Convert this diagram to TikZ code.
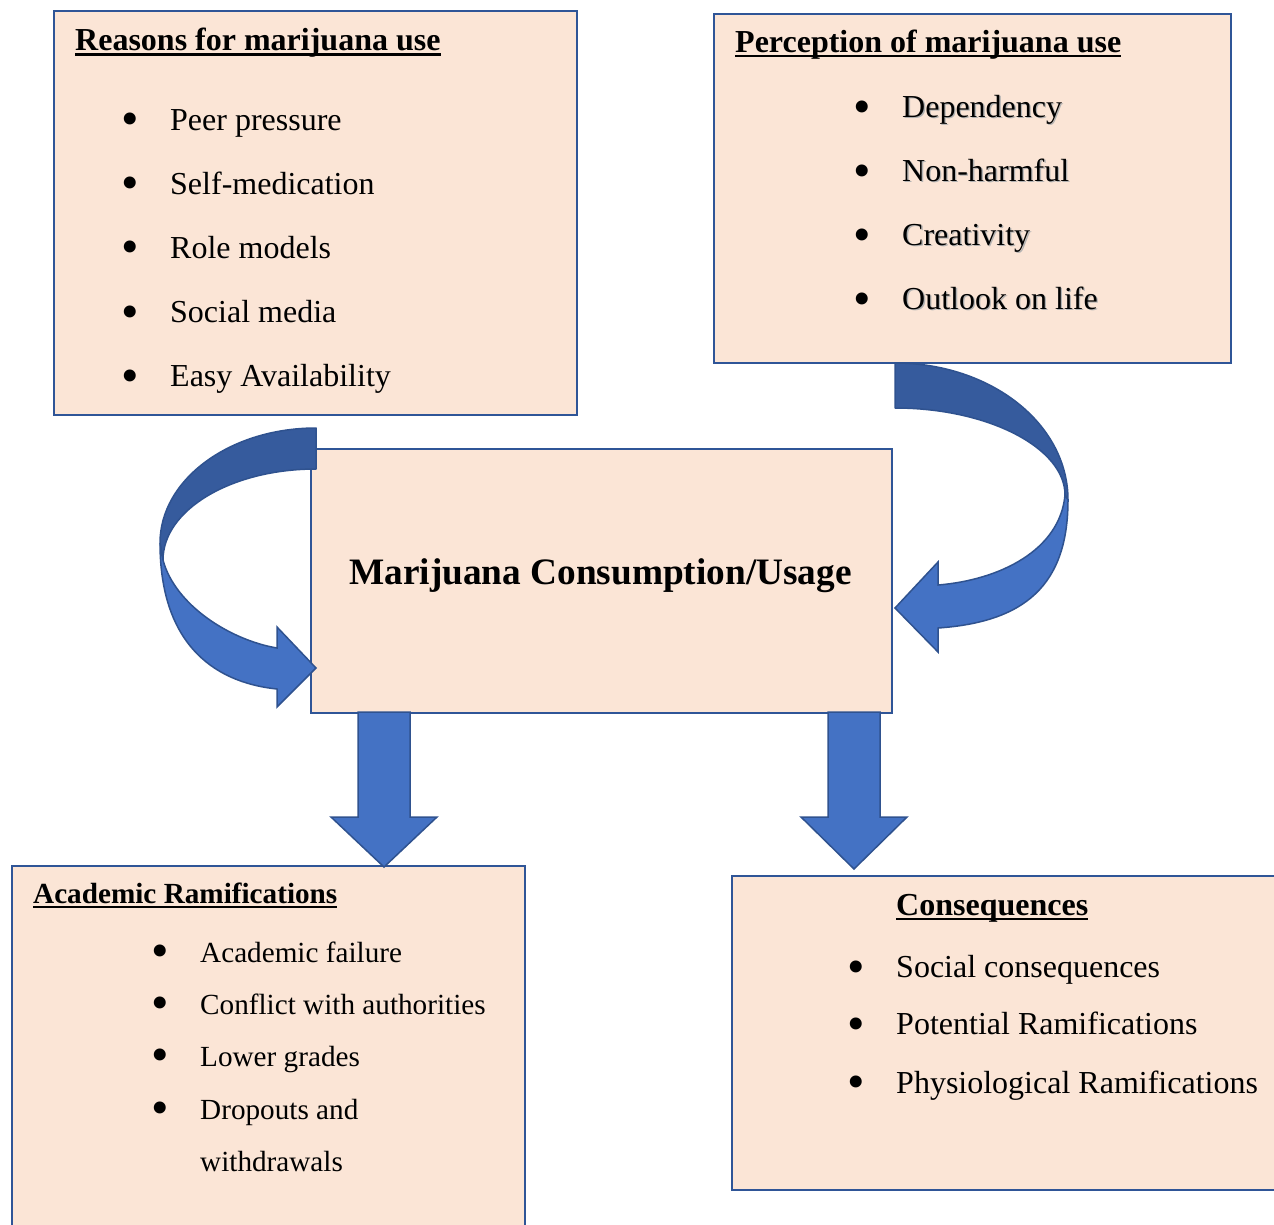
\documentclass[tikz,border=0pt]{standalone}
\usepackage{fontspec}
\setmainfont{Liberation Serif}
\usetikzlibrary{positioning}

\definecolor{peach}{HTML}{FBE5D6}
\definecolor{boxline}{HTML}{2F5597}
\definecolor{arrowblue}{HTML}{4472C4}
\definecolor{arrowdark}{HTML}{365B9D}
\definecolor{arrowline}{HTML}{2F528F}

% underlined heading, rule at a fixed depth
\newcommand{\ulhead}[1]{\setbox0\hbox{#1}\rlap{\rule[-0.17em]{\wd0}{0.08em}}\box0}
% bullet hung to the left of an item
\newcommand{\bul}{\llap{\raisebox{-0.18em}{\fontsize{50}{50}\selectfont •}\hspace{31.5pt}}}
% soft text shadow
\newcommand{\shd}[1]{\rlap{\hspace{1.3pt}\raisebox{-1.3pt}{\color{black!30}#1}}#1}

\tikzset{
    panel/.style={
        draw=boxline,
        line width=2pt,
        fill=peach,
        inner sep=0pt,
        anchor=north west},
    headtxt/.style={
        font=\fontsize{32}{38}\selectfont\bfseries,
        anchor=base west,
        inner sep=0pt},
    itemtxt/.style={
        font=\fontsize{32}{38}\selectfont,
        anchor=base west,
        inner sep=0pt},
    acadhead/.style={headtxt, font=\fontsize{29.2}{35}\selectfont\bfseries},
    acaditem/.style={itemtxt, font=\fontsize{29.2}{35}\selectfont},
    backband/.style={
        fill=arrowdark,
        draw=arrowline,
        line width=1.5pt,
        line join=round},
    frontband/.style={
        fill=arrowblue,
        draw=arrowline,
        line width=1.5pt,
        line join=miter}
}

\begin{document}
\begin{tikzpicture}[x=1pt, y=-1pt]
    \useasboundingbox (0,0) rectangle (1274,1224);

    % boxes
    \node[panel, minimum width=523, minimum height=404] (reasons) at (53,10) {};
    \node[panel, minimum width=517, minimum height=349] (perception) at (713,13) {};
    \node[panel, minimum width=581, minimum height=264] (usage) at (310,448) {};
    \node[panel, minimum width=513, minimum height=380] (academic) at (11,865) {};
    \node[panel, minimum width=560, minimum height=314] (conseq) at (731,875) {};

    % curved arrow, left
    \draw[backband] (316,428) .. controls (229.8,428) and (160,479.5) .. (160,543)
        -- (163,560) .. controls (163,509.7) and (231.5,469) .. (316,469) -- cycle;
    \draw[frontband] (160,543) .. controls (160,640) and (210,682) .. (277,689)
        -- (277,707) -- (316,668) -- (277,627) -- (277,648)
        .. controls (230,640) and (175,605) .. (163,560) -- cycle;

    % curved arrow, right
    \draw[backband] (895,363) .. controls (990.5,363) and (1068,423.4) .. (1068,500)
        -- (1065,495) .. controls (1065,448.3) and (988.9,408) .. (895,408) -- cycle;
    \draw[frontband] (1065,495) .. controls (1060,550) and (1000,580) .. (938,585)
        -- (938,562) -- (895,608) -- (938,652) -- (938,628)
        .. controls (1025,622) and (1068,585) .. (1068,500) -- cycle;

    % straight arrows down
    \draw[frontband] (358,712) -- (358,817) -- (331,817) -- (384,867)
        -- (437,817) -- (410,817) -- (410,712) -- cycle;
    \draw[frontband] (828,712) -- (828,817) -- (801,817) -- (854,869)
        -- (907,817) -- (880,817) -- (880,712) -- cycle;

    % reasons
    \node[headtxt] (reasonstitle) at (75,50.5) {\ulhead{Reasons for marijuana use}};
    \node[itemtxt] (r1) at (170,130) {\bul Peer pressure};
    \node[itemtxt] (r2) at (170,194) {\bul Self-medication};
    \node[itemtxt] (r3) at (170,258) {\bul Role models};
    \node[itemtxt] (r4) at (170,322.5) {\bul Social media};
    \node[itemtxt] (r5) at (170,386.5) {\bul Easy Availability};

    % perception
    \node[headtxt] (perctitle) at (735,52) {\ulhead{Perception of marijuana use}};
    \node[itemtxt] (p1) at (902,117.5) {\bul\shd{Dependency}};
    \node[itemtxt] (p2) at (902,181.5) {\bul\shd{Non-harmful}};
    \node[itemtxt] (p3) at (902,245.5) {\bul\shd{Creativity}};
    \node[itemtxt] (p4) at (902,309.5) {\bul\shd{Outlook on life}};

    % centre
    \node[
        font=\fontsize{37.3}{44}\selectfont\bfseries,
        anchor=base,
        inner sep=0pt]
        (usagetitle) at (600.5,584) {Marijuana Consumption/Usage};

    % academic
    \node[acadhead] (acadtitle) at (33,903) {\ulhead{Academic Ramifications}};
    \node[acaditem] (a1) at (200,962) {\bul Academic failure};
    \node[acaditem] (a2) at (200,1014) {\bul Conflict with authorities};
    \node[acaditem] (a3) at (200,1066.5) {\bul Lower grades};
    \node[acaditem] (a4) at (200,1119) {\bul Dropouts and};
    \node[acaditem] (a5) at (200,1171) {withdrawals};

    % consequences
    \node[headtxt] (contitle) at (896,915) {\ulhead{Consequences}};
    \node[itemtxt] (c1) at (896,977.5) {\bul Social consequences};
    \node[itemtxt] (c2) at (896,1034.5) {\bul Potential Ramifications};
    \node[itemtxt] (c3) at (896,1093) {\bul Physiological Ramifications};
\end{tikzpicture}
\end{document}
